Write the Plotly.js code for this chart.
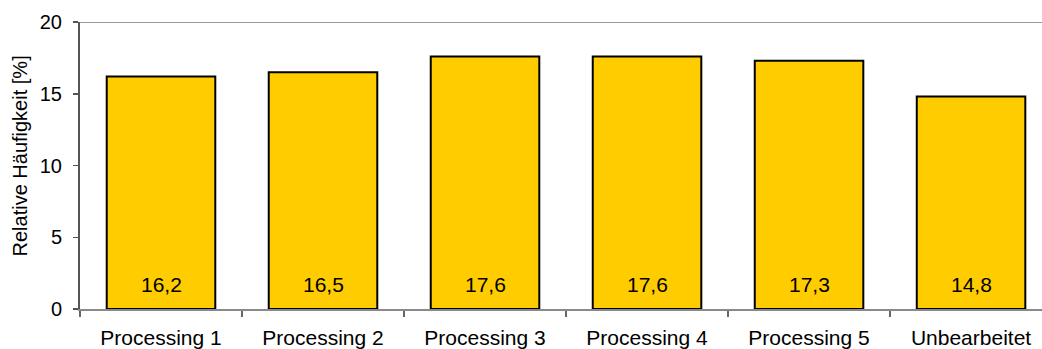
<!DOCTYPE html>
<html>
<head>
<meta charset="utf-8">
<script src="https://cdn.plot.ly/plotly-3.0.1.min.js"></script>
<style>html,body{margin:0;padding:0;background:#fff;}#chart{width:1042px;height:349px;}</style>
</head>
<body>
<div id="chart"></div>
<script>
const categories = ["Processing 1", "Processing 2", "Processing 3", "Processing 4", "Processing 5", "Unbearbeitet"];
const values = [16.2, 16.5, 17.6, 17.6, 17.3, 14.8];
const yTicks = [0, 5, 10, 15, 20];
const yTitle = "Relative Häufigkeit [%]";

const FONT = "Liberation Sans, Arial, sans-serif";

const trace = {
  type: "bar",
  x: categories,
  y: values,
  marker: { color: "#FFCC00", line: { color: "#000000", width: 2 } },
  hoverinfo: "x+y"
};

const annotations = categories.map((c, i) => ({
  x: c, y: 0, xref: "x", yref: "y",
  text: values[i].toFixed(1).replace(".", ","),
  showarrow: false, yanchor: "middle", yshift: 25,
  font: { family: FONT, size: 21, color: "#000" }
}));

annotations.push({
  text: yTitle, xref: "paper", yref: "paper", x: 0, y: 0.5,
  xanchor: "center", yanchor: "middle", xshift: -61, yshift: 9,
  textangle: -90, showarrow: false,
  font: { family: FONT, size: 20, color: "#000" }
});

const layout = {
  width: 1042, height: 349,
  margin: { l: 80, r: 0, t: 22, b: 40 },
  paper_bgcolor: "#fff", plot_bgcolor: "#fff",
  showlegend: false,
  bargap: 0.33,
  font: { family: FONT, size: 20, color: "#000" },
  xaxis: {
    type: "category",
    range: [-0.5, 5.438],
    showgrid: false, zeroline: false,
    showline: true, linecolor: "#8a8a8a", linewidth: 1.5,
    ticks: "outside", tickson: "boundaries", ticklen: 6, tickcolor: "#666", tickwidth: 1.5,
    ticklabelstandoff: 9,
    tickfont: { family: FONT, size: 21, color: "#000" }
  },
  yaxis: {
    range: [0, 20],
    tickvals: yTicks,
    showgrid: false, zeroline: false,
    showline: true, linecolor: "#555", linewidth: 2,
    ticks: "outside", ticklen: 5, tickcolor: "#555", tickwidth: 1.5,
    ticklabelstandoff: 7,
    tickfont: { family: FONT, size: 20, color: "#000" }
  },
  shapes: [{
    type: "line", xref: "paper", yref: "y", x0: 0, x1: 1, y0: 20, y1: 20,
    line: { color: "#999999", width: 2 }
  }],
  annotations: annotations
};

Plotly.newPlot("chart", [trace], layout, { displayModeBar: false, staticPlot: true });
</script>
</body>
</html>
